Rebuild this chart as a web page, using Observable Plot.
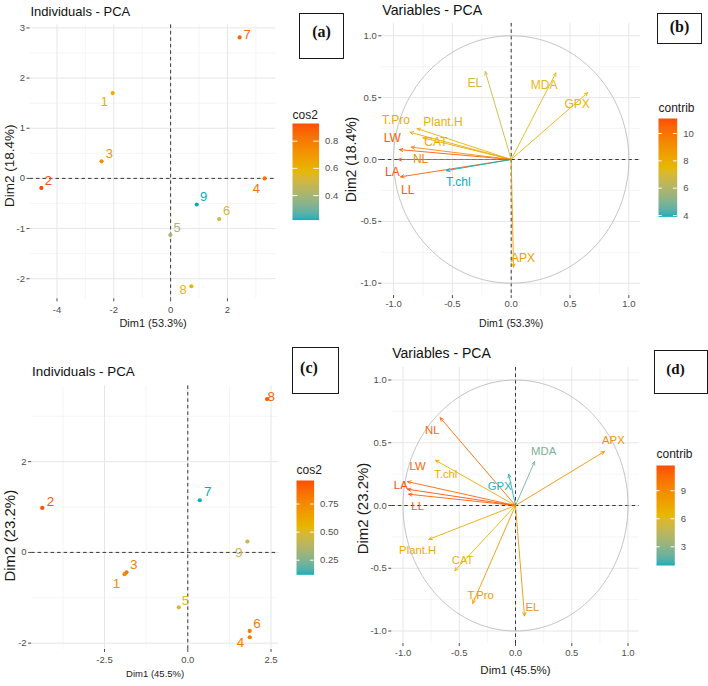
<!DOCTYPE html>
<html>
<head>
<meta charset="utf-8">
<script src="https://cdn.jsdelivr.net/npm/d3@7"></script>
<script src="https://cdn.jsdelivr.net/npm/@observablehq/plot@0.6"></script>
<style>
  body { margin: 0; background: #fff; }
  #root { position: relative; width: 708px; height: 686px; overflow: hidden; background: #fff;
          font-family: 'Liberation Sans', Arial, Helvetica, sans-serif; }
</style>
</head>
<body>
<div id="root"></div>
<script>
// ---------- shared ----------
const gradientColors = ["#00AFBB", "#E7B800", "#FC4E07"];

// ---------- (a) individuals, PCA 1 ----------
const indA_id      = ["1", "2", "3", "4", "5", "6", "7", "8", "9"];
const indA_dim1    = [-2.04, -4.55, -2.43, 3.31, -0.01, 1.71, 2.43, 0.73, 0.92];
const indA_dim2    = [1.70, -0.19, 0.34, 0.00, -1.13, -0.81, 2.81, -2.15, -0.52];
const indA_cos2    = [0.62, 0.93, 0.73, 0.83, 0.40, 0.52, 0.86, 0.58, 0.22];
const indA_labDim1 = [-2.33, -4.30, -2.16, 3.02, 0.23, 1.97, 2.69, 0.44, 1.16];
const indA_labDim2 = [1.52, -0.05, 0.49, -0.20, -0.99, -0.64, 2.86, -2.23, -0.37];
const cos2A_domain = [0.22, 0.93];
const cos2A_ticks  = [0.4, 0.6, 0.8];

// ---------- (b) variables, PCA 1 ----------
const varB_name    = ["EL", "MDA", "GPX", "T.Pro", "Plant.H", "CAT", "LW", "NL", "LA", "LL", "T.chl", "APX"];
const varB_dim1    = [-0.22, 0.38, 0.65, -0.86, -0.80, -0.75, -0.95, -0.85, -0.96, -0.94, -0.55, 0.02];
const varB_dim2    = [0.71, 0.70, 0.54, 0.22, 0.25, 0.175, 0.08, 0.10, 0.00, -0.14, -0.09, -0.87];
const varB_contrib = [6.9, 7.4, 7.6, 8.0, 7.8, 8.0, 10.8, 9.3, 11.0, 10.6, 3.9, 8.6];
const varB_labDim1 = [-0.31, 0.28, 0.56, -0.98, -0.58, -0.64, -1.01, -0.77, -1.01, -0.88, -0.45, 0.10];
const varB_labDim2 = [0.62, 0.60, 0.45, 0.32, 0.30, 0.14, 0.17, 0.00, -0.10, -0.245, -0.18, -0.80];
const contribB_domain = [3.9, 11.1];
const contribB_ticks  = [4, 6, 8, 10];

// ---------- (c) individuals, PCA 2 ----------
const indC_id      = ["1", "2", "3", "4", "5", "6", "7", "8", "9"];
const indC_dim1    = [-1.90, -4.37, -1.84, 1.86, -0.27, 1.86, 0.36, 2.38, 1.79];
const indC_dim2    = [-0.48, 0.98, -0.44, -1.87, -1.21, -1.73, 1.15, 3.38, 0.24];
const indC_cos2    = [0.74, 0.95, 0.80, 0.82, 0.50, 0.80, 0.12, 0.92, 0.42];
const indC_labDim1 = [-2.14, -4.12, -1.62, 1.58, -0.07, 2.08, 0.60, 2.51, 1.53];
const indC_labDim2 = [-0.69, 1.12, -0.28, -1.98, -1.06, -1.58, 1.33, 3.43, 0.00];
const cos2C_domain = [0.12, 0.96];
const cos2C_ticks  = [0.25, 0.50, 0.75];

// ---------- (d) variables, PCA 2 ----------
const varD_name    = ["NL", "APX", "MDA", "GPX", "T.chl", "LW", "LA", "LL", "Plant.H", "CAT", "T.Pro", "EL"];
const varD_dim1    = [-0.67, 0.79, 0.17, -0.06, -0.71, -0.96, -0.96, -0.95, -0.77, -0.54, -0.38, 0.08];
const varD_dim2    = [0.70, 0.43, 0.35, 0.25, 0.36, 0.19, 0.13, 0.09, -0.27, -0.52, -0.78, -0.88];
const varD_contrib = [10.5, 8.6, 2.4, 1.2, 7.0, 10.8, 11.6, 11.0, 7.2, 6.3, 8.2, 8.4];
const varD_labDim1 = [-0.74, 0.87, 0.25, -0.14, -0.62, -0.87, -1.02, -0.87, -0.87, -0.47, -0.31, 0.15];
const varD_labDim2 = [0.60, 0.52, 0.43, 0.15, 0.25, 0.31, 0.16, -0.01, -0.36, -0.44, -0.72, -0.81];
const contribD_domain = [1.0, 11.7];
const contribD_ticks  = [3, 6, 9];

// ---------- helpers ----------
const font = "'Liberation Sans', Arial, Helvetica, sans-serif";
const root = document.getElementById("root");
const svgStyle = {background: "transparent", overflow: "visible", fontFamily: font, position: "absolute"};

function colorScale(domain) {
  return {type: "linear", domain: [domain[0], (domain[0] + domain[1]) / 2, domain[1]],
          range: gradientColors, interpolate: "lab"};
}
function place(el, left, top) {
  el.style.position = "absolute";
  el.style.left = left + "px";
  el.style.top = top + "px";
  el.style.maxWidth = "none";
  root.appendChild(el);
}
const unitCircle = d3.range(0, 361, 2).map(a => ({x: Math.cos(a * Math.PI / 180), y: Math.sin(a * Math.PI / 180)}));

function panel(o) {
  const svg = Plot.plot({
    width: o.width, height: o.height,
    marginLeft: o.mL, marginRight: o.mR, marginTop: o.mT, marginBottom: o.mB,
    style: svgStyle,
    x: {domain: o.xDomain},
    y: {domain: o.yDomain},
    color: colorScale(o.colorDomain),
    marks: [
      Plot.ruleX(o.xMinor, {stroke: "#f1f1f1", strokeWidth: 0.7}),
      Plot.ruleY(o.yMinor, {stroke: "#f1f1f1", strokeWidth: 0.7}),
      Plot.ruleX(o.xTicks, {stroke: "#e6e6e6", strokeWidth: 1}),
      Plot.ruleY(o.yTicks, {stroke: "#e6e6e6", strokeWidth: 1}),
      Plot.axisX({ticks: o.xTicks, tickFormat: o.fmtX, tickSize: 3, tickPadding: o.xPad,
                  fontSize: 9.5, color: "#4d4d4d", label: null}),
      Plot.axisY({ticks: o.yTicks, tickFormat: o.fmtY, tickSize: 3, tickPadding: 2,
                  fontSize: 9.5, color: "#4d4d4d", label: null}),
      Plot.text([o.xLabel], {frameAnchor: "bottom", textAnchor: "middle", lineAnchor: "middle",
                             dy: o.xLabelDy, fontSize: o.xLabelSize, fill: "#1a1a1a"}),
      Plot.text([o.yLabel], {frameAnchor: "left", textAnchor: "middle", lineAnchor: "middle", rotate: -90,
                             dx: o.yLabelDx, dy: o.yLabelDy, fontSize: o.yLabelSize, fill: "#1a1a1a"}),
      Plot.text([o.title], {frameAnchor: "top-left", textAnchor: "start", lineAnchor: "middle",
                            dy: o.titleDy, dx: 0.5, fontSize: o.titleSize, fill: "#111"}),
      Plot.ruleX([0], {stroke: "#222", strokeDasharray: "3.5,3", strokeWidth: 0.9}),
      Plot.ruleY([0], {stroke: "#222", strokeDasharray: "3.5,3", strokeWidth: 0.9}),
      ...o.marks
    ]
  });
  place(svg, o.left, o.top);
}

function legend(o) {
  const mT = 22, labelRoom = 30;
  const svg = Plot.plot({
    width: o.barW + labelRoom, height: o.barH + mT,
    marginTop: mT, marginLeft: 0, marginRight: labelRoom, marginBottom: 0,
    style: svgStyle,
    x: {domain: [0, 1], axis: null},
    y: {domain: o.domain, axis: null},
    color: colorScale(o.domain),
    marks: [
      Plot.raster({x1: 0, x2: 1, y1: o.domain[0], y2: o.domain[1], fill: (x, y) => y, width: 2, height: 160}),
      Plot.ruleY(o.ticks, {x1: 0, x2: 0.2, stroke: "white", strokeWidth: 1}),
      Plot.ruleY(o.ticks, {x1: 0.8, x2: 1, stroke: "white", strokeWidth: 1}),
      Plot.axisY({anchor: "right", ticks: o.ticks, tickFormat: o.fmt, tickSize: 0, tickPadding: 6,
                  fontSize: 9.5, color: "#4d4d4d", label: null}),
      Plot.text([o.title], {frameAnchor: "top-left", textAnchor: "start", lineAnchor: "middle",
                            dy: o.titleDy, fontSize: 12, fill: "#1a1a1a"})
    ]
  });
  place(svg, o.left, o.top - mT);
}

function addBox(label, left, top, w, h, cx, cy, size) {
  const b = document.createElement("div");
  b.style.cssText = `position:absolute;left:${left}px;top:${top}px;width:${w}px;height:${h}px;` +
                    `border:1px solid #1a1a1a;box-sizing:border-box;background:#fff;`;
  root.appendChild(b);
  const t = document.createElement("div");
  t.textContent = label;
  t.style.cssText = `position:absolute;left:${cx}px;top:${cy}px;transform:translate(-50%,-50%);` +
                    `font:bold ${size}px 'Liberation Serif','Times New Roman',serif;color:#111;white-space:nowrap;line-height:1;`;
  root.appendChild(t);
}

const fmtInt = d => String(d);
const fmt1 = d => d.toFixed(1);
const fmt2 = d => d.toFixed(2);

// ---------- build tables ----------
const indA = indA_id.map((id, i) => ({id, x: indA_dim1[i], y: indA_dim2[i], c: indA_cos2[i], lx: indA_labDim1[i], ly: indA_labDim2[i]}));
const varB = varB_name.map((name, i) => ({name, x: varB_dim1[i], y: varB_dim2[i], c: varB_contrib[i], lx: varB_labDim1[i], ly: varB_labDim2[i]}));
const indC = indC_id.map((id, i) => ({id, x: indC_dim1[i], y: indC_dim2[i], c: indC_cos2[i], lx: indC_labDim1[i], ly: indC_labDim2[i]}));
const varD = varD_name.map((name, i) => ({name, x: varD_dim1[i], y: varD_dim2[i], c: varD_contrib[i], lx: varD_labDim1[i], ly: varD_labDim2[i]}));

const indMarks = (data, fs) => [
  Plot.dot(data, {x: "x", y: "y", fill: "c", r: 2.1}),
  Plot.text(data, {x: "lx", y: "ly", text: "id", fill: "c", fontSize: fs})
];
const varMarks = (data, fs) => [
  Plot.line(unitCircle, {x: "x", y: "y", stroke: "#b5b5b5", strokeWidth: 0.8}),
  Plot.arrow(data, {x1: 0, y1: 0, x2: "x", y2: "y", stroke: "c", strokeWidth: 0.9, headLength: 6, headAngle: 50}),
  Plot.text(data, {x: "lx", y: "ly", text: "name", fill: "c", fontSize: fs})
];

// ---------- (a) ----------
panel({
  left: 0, top: 0, width: 290, height: 330, mL: 29.5, mR: 14.5, mT: 24.4, mB: 31.7,
  xDomain: [-4.95, 3.71], yDomain: [-2.40, 3.06],
  xTicks: [-4, -2, 0, 2], xMinor: [-3, -1, 1, 3],
  yTicks: [-2, -1, 0, 1, 2, 3], yMinor: [-1.5, -0.5, 0.5, 1.5, 2.5],
  fmtX: fmtInt, fmtY: fmtInt, xPad: 4,
  xLabel: "Dim1 (53.3%)", xLabelDy: 24.3, xLabelSize: 11,
  yLabel: "Dim2 (18.4%)", yLabelDx: -20.5, yLabelDy: 4, yLabelSize: 13.5,
  title: "Individuals - PCA", titleDy: -12.7, titleSize: 13,
  colorDomain: cos2A_domain, marks: indMarks(indA, 13)
});
legend({left: 291.7, top: 122.7, barW: 26.6, barH: 96.6, domain: cos2A_domain, ticks: cos2A_ticks,
        fmt: fmt1, title: "cos2", titleDy: -8});

// ---------- (b) ----------
panel({
  left: 354, top: 0, width: 300, height: 330, mL: 27.3, mR: 13.9, mT: 22.9, mB: 34.9,
  xDomain: [-1.1, 1.1], yDomain: [-1.1, 1.1],
  xTicks: [-1, -0.5, 0, 0.5, 1], xMinor: [-0.75, -0.25, 0.25, 0.75],
  yTicks: [-1, -0.5, 0, 0.5, 1], yMinor: [-0.75, -0.25, 0.25, 0.75],
  fmtX: fmt1, fmtY: fmt1, xPad: 1.5,
  xLabel: "Dim1 (53.3%)", xLabelDy: 27.6, xLabelSize: 10.5,
  yLabel: "Dim2 (18.4%)", yLabelDx: -30.3, yLabelDy: 0, yLabelSize: 14,
  title: "Variables - PCA", titleDy: -13.4, titleSize: 14.2,
  colorDomain: contribB_domain, marks: varMarks(varB, 12)
});
legend({left: 658, top: 118.3, barW: 18.7, barH: 98.4, domain: contribB_domain, ticks: contribB_ticks,
        fmt: fmtInt, title: "contrib", titleDy: -10});

// ---------- (c) ----------
panel({
  left: 0, top: 330, width: 290, height: 356, mL: 31.1, mR: 11.8, mT: 55.4, mB: 37,
  xDomain: [-4.69, 2.73], yDomain: [-2.14, 3.67],
  xTicks: [-2.5, 0, 2.5], xMinor: [-3.75, -1.25, 1.25],
  yTicks: [-2, 0, 2], yMinor: [-1, 1, 3],
  fmtX: fmt1, fmtY: fmtInt, xPad: 3.5,
  xLabel: "Dim1 (45.5%)", xLabelDy: 24.3, xLabelSize: 9.5,
  yLabel: "Dim2 (23.2%)", yLabelDx: -21, yLabelDy: 18, yLabelSize: 15,
  title: "Individuals - PCA", titleDy: -13.7, titleSize: 13.4,
  colorDomain: cos2C_domain, marks: indMarks(indC, 13.5)
});
legend({left: 295.7, top: 480, barW: 17.6, barH: 94.3, domain: cos2C_domain, ticks: cos2C_ticks,
        fmt: fmt2, title: "cos2", titleDy: -10});

// ---------- (d) ----------
panel({
  left: 354, top: 330, width: 300, height: 356, mL: 37.25, mR: 15.25, mT: 36.95, mB: 42.95,
  xDomain: [-1.1, 1.1], yDomain: [-1.1, 1.1],
  xTicks: [-1, -0.5, 0, 0.5, 1], xMinor: [-0.75, -0.25, 0.25, 0.75],
  yTicks: [-1, -0.5, 0, 0.5, 1], yMinor: [-0.75, -0.25, 0.25, 0.75],
  fmtX: fmt1, fmtY: fmt1, xPad: 3,
  xLabel: "Dim1 (45.5%)", xLabelDy: 27, xLabelSize: 11.5,
  yLabel: "Dim2 (23.2%)", yLabelDx: -29, yLabelDy: 3, yLabelSize: 15,
  title: "Variables - PCA", titleDy: -13.7, titleSize: 14,
  colorDomain: contribD_domain, marks: varMarks(varD, 11.3)
});
legend({left: 655.7, top: 465, barW: 18.3, barH: 100, domain: contribD_domain, ticks: contribD_ticks,
        fmt: fmtInt, title: "contrib", titleDy: -11.5});

// ---------- panel tags ----------
addBox("(a)", 299, 13, 44.5, 45.5, 321.5, 32, 16);
addBox("(b)", 657, 13, 45, 31, 679.5, 26.5, 16);
addBox("(c)", 292, 347, 46.5, 46.5, 309, 367.5, 16);
addBox("(d)", 653.5, 350, 54, 43.5, 675.5, 368.5, 15);
</script>
</body>
</html>
